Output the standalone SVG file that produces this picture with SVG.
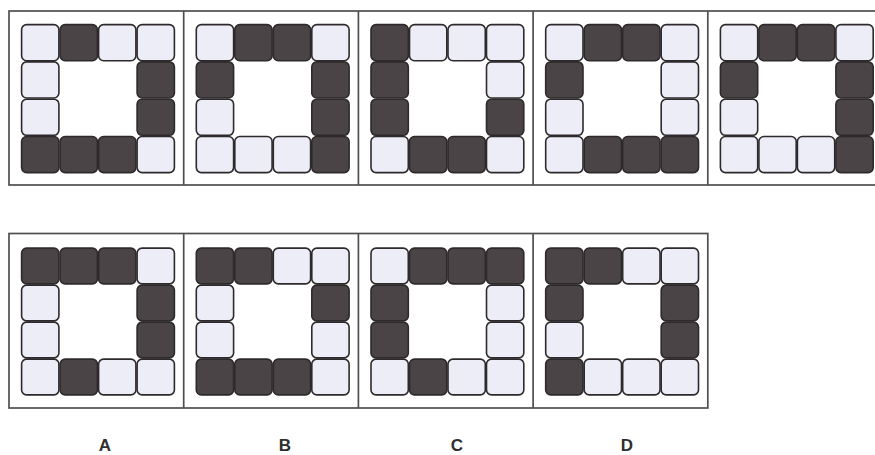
<svg xmlns="http://www.w3.org/2000/svg" width="875" height="455" viewBox="0 0 875 455">
<defs>
<style>
.frame{fill:none;stroke:#4f4f4f;stroke-width:1.7}
.div{stroke:#4f4f4f;stroke-width:1.7}
.d{fill:#4b4446;stroke:#2e2a2b;stroke-width:1.6}
.l{fill:#ecedf7;stroke:#2e2a2b;stroke-width:1.6}
.lbl{font-family:"Liberation Sans",Arial,sans-serif;font-weight:bold;font-size:17px;fill:#2f2f2f;text-anchor:middle}
</style>
</defs>
<rect width="875" height="455" fill="#fff"/>
<g id="frames">
<rect class="frame" x="9" y="11" width="880" height="174"/>
<line class="div" x1="183.7" y1="11" x2="183.7" y2="185"/>
<line class="div" x1="358.4" y1="11" x2="358.4" y2="185"/>
<line class="div" x1="533.1" y1="11" x2="533.1" y2="185"/>
<line class="div" x1="707.8" y1="11" x2="707.8" y2="185"/>
<rect class="frame" x="9" y="233.5" width="698.8" height="174.5"/>
<line class="div" x1="183.7" y1="233.5" x2="183.7" y2="408"/>
<line class="div" x1="358.4" y1="233.5" x2="358.4" y2="408"/>
<line class="div" x1="533.1" y1="233.5" x2="533.1" y2="408"/>
</g>
<g id="top1" transform="translate(21,24)">
<rect class="l" x="0.6" y="0.6" width="37.3" height="36.1" rx="5"/><rect class="d" x="39.1" y="0.6" width="37.3" height="36.1" rx="5"/><rect class="l" x="77.6" y="0.6" width="37.3" height="36.1" rx="5"/><rect class="l" x="116.1" y="0.6" width="37.3" height="36.1" rx="5"/>
<rect class="l" x="0.6" y="37.9" width="37.3" height="36.1" rx="5"/><rect class="d" x="116.1" y="37.9" width="37.3" height="36.1" rx="5"/>
<rect class="l" x="0.6" y="75.2" width="37.3" height="36.1" rx="5"/><rect class="d" x="116.1" y="75.2" width="37.3" height="36.1" rx="5"/>
<rect class="d" x="0.6" y="112.5" width="37.3" height="36.1" rx="5"/><rect class="d" x="39.1" y="112.5" width="37.3" height="36.1" rx="5"/><rect class="d" x="77.6" y="112.5" width="37.3" height="36.1" rx="5"/><rect class="l" x="116.1" y="112.5" width="37.3" height="36.1" rx="5"/>
</g>
<g id="top2" transform="translate(195.7,24)">
<rect class="l" x="0.6" y="0.6" width="37.3" height="36.1" rx="5"/><rect class="d" x="39.1" y="0.6" width="37.3" height="36.1" rx="5"/><rect class="d" x="77.6" y="0.6" width="37.3" height="36.1" rx="5"/><rect class="l" x="116.1" y="0.6" width="37.3" height="36.1" rx="5"/>
<rect class="d" x="0.6" y="37.9" width="37.3" height="36.1" rx="5"/><rect class="d" x="116.1" y="37.9" width="37.3" height="36.1" rx="5"/>
<rect class="l" x="0.6" y="75.2" width="37.3" height="36.1" rx="5"/><rect class="d" x="116.1" y="75.2" width="37.3" height="36.1" rx="5"/>
<rect class="l" x="0.6" y="112.5" width="37.3" height="36.1" rx="5"/><rect class="l" x="39.1" y="112.5" width="37.3" height="36.1" rx="5"/><rect class="l" x="77.6" y="112.5" width="37.3" height="36.1" rx="5"/><rect class="d" x="116.1" y="112.5" width="37.3" height="36.1" rx="5"/>
</g>
<g id="top3" transform="translate(370.4,24)">
<rect class="d" x="0.6" y="0.6" width="37.3" height="36.1" rx="5"/><rect class="l" x="39.1" y="0.6" width="37.3" height="36.1" rx="5"/><rect class="l" x="77.6" y="0.6" width="37.3" height="36.1" rx="5"/><rect class="l" x="116.1" y="0.6" width="37.3" height="36.1" rx="5"/>
<rect class="d" x="0.6" y="37.9" width="37.3" height="36.1" rx="5"/><rect class="l" x="116.1" y="37.9" width="37.3" height="36.1" rx="5"/>
<rect class="d" x="0.6" y="75.2" width="37.3" height="36.1" rx="5"/><rect class="d" x="116.1" y="75.2" width="37.3" height="36.1" rx="5"/>
<rect class="l" x="0.6" y="112.5" width="37.3" height="36.1" rx="5"/><rect class="d" x="39.1" y="112.5" width="37.3" height="36.1" rx="5"/><rect class="d" x="77.6" y="112.5" width="37.3" height="36.1" rx="5"/><rect class="l" x="116.1" y="112.5" width="37.3" height="36.1" rx="5"/>
</g>
<g id="top4" transform="translate(545.1,24)">
<rect class="l" x="0.6" y="0.6" width="37.3" height="36.1" rx="5"/><rect class="d" x="39.1" y="0.6" width="37.3" height="36.1" rx="5"/><rect class="d" x="77.6" y="0.6" width="37.3" height="36.1" rx="5"/><rect class="l" x="116.1" y="0.6" width="37.3" height="36.1" rx="5"/>
<rect class="d" x="0.6" y="37.9" width="37.3" height="36.1" rx="5"/><rect class="l" x="116.1" y="37.9" width="37.3" height="36.1" rx="5"/>
<rect class="l" x="0.6" y="75.2" width="37.3" height="36.1" rx="5"/><rect class="l" x="116.1" y="75.2" width="37.3" height="36.1" rx="5"/>
<rect class="l" x="0.6" y="112.5" width="37.3" height="36.1" rx="5"/><rect class="d" x="39.1" y="112.5" width="37.3" height="36.1" rx="5"/><rect class="d" x="77.6" y="112.5" width="37.3" height="36.1" rx="5"/><rect class="d" x="116.1" y="112.5" width="37.3" height="36.1" rx="5"/>
</g>
<g id="top5" transform="translate(719.8,24)">
<rect class="l" x="0.6" y="0.6" width="37.3" height="36.1" rx="5"/><rect class="d" x="39.1" y="0.6" width="37.3" height="36.1" rx="5"/><rect class="d" x="77.6" y="0.6" width="37.3" height="36.1" rx="5"/><rect class="l" x="116.1" y="0.6" width="37.3" height="36.1" rx="5"/>
<rect class="d" x="0.6" y="37.9" width="37.3" height="36.1" rx="5"/><rect class="d" x="116.1" y="37.9" width="37.3" height="36.1" rx="5"/>
<rect class="l" x="0.6" y="75.2" width="37.3" height="36.1" rx="5"/><rect class="d" x="116.1" y="75.2" width="37.3" height="36.1" rx="5"/>
<rect class="l" x="0.6" y="112.5" width="37.3" height="36.1" rx="5"/><rect class="l" x="39.1" y="112.5" width="37.3" height="36.1" rx="5"/><rect class="l" x="77.6" y="112.5" width="37.3" height="36.1" rx="5"/><rect class="d" x="116.1" y="112.5" width="37.3" height="36.1" rx="5"/>
</g>
<g id="optA" transform="translate(21,247.5)">
<rect class="d" x="0.6" y="0.6" width="37.3" height="35.8" rx="5"/><rect class="d" x="39.1" y="0.6" width="37.3" height="35.8" rx="5"/><rect class="d" x="77.6" y="0.6" width="37.3" height="35.8" rx="5"/><rect class="l" x="116.1" y="0.6" width="37.3" height="35.8" rx="5"/>
<rect class="l" x="0.6" y="37.6" width="37.3" height="35.8" rx="5"/><rect class="d" x="116.1" y="37.6" width="37.3" height="35.8" rx="5"/>
<rect class="l" x="0.6" y="74.6" width="37.3" height="35.8" rx="5"/><rect class="d" x="116.1" y="74.6" width="37.3" height="35.8" rx="5"/>
<rect class="l" x="0.6" y="111.6" width="37.3" height="35.8" rx="5"/><rect class="d" x="39.1" y="111.6" width="37.3" height="35.8" rx="5"/><rect class="l" x="77.6" y="111.6" width="37.3" height="35.8" rx="5"/><rect class="l" x="116.1" y="111.6" width="37.3" height="35.8" rx="5"/>
</g>
<g id="optB" transform="translate(195.7,247.5)">
<rect class="d" x="0.6" y="0.6" width="37.3" height="35.8" rx="5"/><rect class="d" x="39.1" y="0.6" width="37.3" height="35.8" rx="5"/><rect class="l" x="77.6" y="0.6" width="37.3" height="35.8" rx="5"/><rect class="l" x="116.1" y="0.6" width="37.3" height="35.8" rx="5"/>
<rect class="l" x="0.6" y="37.6" width="37.3" height="35.8" rx="5"/><rect class="d" x="116.1" y="37.6" width="37.3" height="35.8" rx="5"/>
<rect class="l" x="0.6" y="74.6" width="37.3" height="35.8" rx="5"/><rect class="l" x="116.1" y="74.6" width="37.3" height="35.8" rx="5"/>
<rect class="d" x="0.6" y="111.6" width="37.3" height="35.8" rx="5"/><rect class="d" x="39.1" y="111.6" width="37.3" height="35.8" rx="5"/><rect class="d" x="77.6" y="111.6" width="37.3" height="35.8" rx="5"/><rect class="l" x="116.1" y="111.6" width="37.3" height="35.8" rx="5"/>
</g>
<g id="optC" transform="translate(370.4,247.5)">
<rect class="l" x="0.6" y="0.6" width="37.3" height="35.8" rx="5"/><rect class="d" x="39.1" y="0.6" width="37.3" height="35.8" rx="5"/><rect class="d" x="77.6" y="0.6" width="37.3" height="35.8" rx="5"/><rect class="d" x="116.1" y="0.6" width="37.3" height="35.8" rx="5"/>
<rect class="d" x="0.6" y="37.6" width="37.3" height="35.8" rx="5"/><rect class="l" x="116.1" y="37.6" width="37.3" height="35.8" rx="5"/>
<rect class="d" x="0.6" y="74.6" width="37.3" height="35.8" rx="5"/><rect class="l" x="116.1" y="74.6" width="37.3" height="35.8" rx="5"/>
<rect class="l" x="0.6" y="111.6" width="37.3" height="35.8" rx="5"/><rect class="d" x="39.1" y="111.6" width="37.3" height="35.8" rx="5"/><rect class="l" x="77.6" y="111.6" width="37.3" height="35.8" rx="5"/><rect class="l" x="116.1" y="111.6" width="37.3" height="35.8" rx="5"/>
</g>
<g id="optD" transform="translate(545.1,247.5)">
<rect class="d" x="0.6" y="0.6" width="37.3" height="35.8" rx="5"/><rect class="d" x="39.1" y="0.6" width="37.3" height="35.8" rx="5"/><rect class="l" x="77.6" y="0.6" width="37.3" height="35.8" rx="5"/><rect class="l" x="116.1" y="0.6" width="37.3" height="35.8" rx="5"/>
<rect class="d" x="0.6" y="37.6" width="37.3" height="35.8" rx="5"/><rect class="d" x="116.1" y="37.6" width="37.3" height="35.8" rx="5"/>
<rect class="l" x="0.6" y="74.6" width="37.3" height="35.8" rx="5"/><rect class="d" x="116.1" y="74.6" width="37.3" height="35.8" rx="5"/>
<rect class="d" x="0.6" y="111.6" width="37.3" height="35.8" rx="5"/><rect class="l" x="39.1" y="111.6" width="37.3" height="35.8" rx="5"/><rect class="l" x="77.6" y="111.6" width="37.3" height="35.8" rx="5"/><rect class="l" x="116.1" y="111.6" width="37.3" height="35.8" rx="5"/>
</g>
<g id="labels">
<text class="lbl" x="105" y="451">A</text>
<text class="lbl" x="285" y="451">B</text>
<text class="lbl" x="457" y="451">C</text>
<text class="lbl" x="627" y="451">D</text>
</g>
</svg>
